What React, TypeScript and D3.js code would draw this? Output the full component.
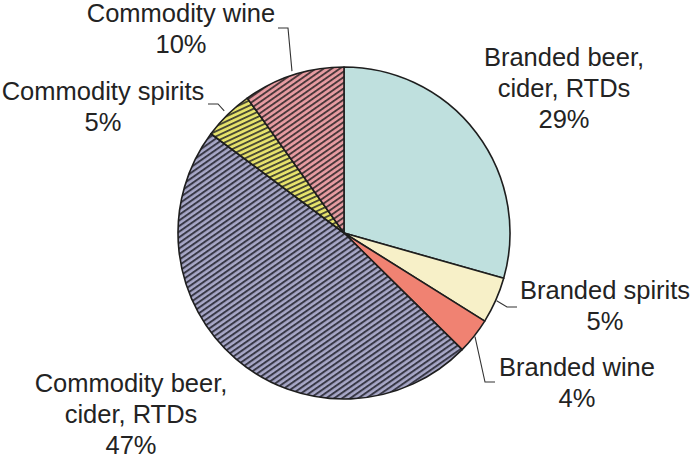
import React from "react";
import * as d3 from "d3";

const categories = [
  "Branded beer, cider, RTDs",
  "Branded spirits",
  "Branded wine",
  "Commodity beer, cider, RTDs",
  "Commodity spirits",
  "Commodity wine",
];
const values = [29.4, 4.5, 3.5, 47.8, 4.9, 9.9];
const pctLabels = ["29%", "5%", "4%", "47%", "5%", "10%"];
const labelLines = [
  ["Branded beer,", "cider, RTDs"],
  ["Branded spirits"],
  ["Branded wine"],
  ["Commodity beer,", "cider, RTDs"],
  ["Commodity spirits"],
  ["Commodity wine"],
];

const W = 690, H = 460;
const cx = 344, cy = 233, R = 166;

const fills = ["#bfe0de", "#f7f0c8", "#f08272", "url(#hatchGrey)", "url(#hatchYellow)", "url(#hatchPink)"];

// label layout: center x, first baseline y
const labelPos = [
  { x: 564, y: 66 },
  { x: 605, y: 299 },
  { x: 577, y: 376 },
  { x: 131, y: 392 },
  { x: 103, y: 100 },
  { x: 181, y: 22 },
];
const leaders: Record<number, { r: number; elbow: [number, number]; end: [number, number] }> = {
  1: { r: R + 1, elbow: [507, 307], end: [517, 307] },
  2: { r: R + 1, elbow: [485, 382], end: [495, 382] },
  4: { r: R + 5, elbow: [218, 104], end: [208, 104] },
  5: { r: R + 4, elbow: [288, 28], end: [278, 28] },
};

export default function App() {
  const pie = d3.pie<number>().sort(null).value((d) => d);
  const arcs = pie(values);
  const arc = d3.arc<d3.PieArcDatum<number>>().innerRadius(0).outerRadius(R);
  const lh = 31;
  return (
    <svg width={W} height={H} style={{ position: "absolute", left: 0, top: 0, background: "#fff" }}>
      <defs>
        <pattern id="hatchGrey" width="4.6" height="4.6" patternUnits="userSpaceOnUse" patternTransform="rotate(-35)">
          <rect width="4.6" height="4.6" fill="#a8a8c8" />
          <rect y="0" width="4.6" height="2" fill="#383846" />
        </pattern>
        <pattern id="hatchPink" width="4.6" height="4.6" patternUnits="userSpaceOnUse" patternTransform="rotate(-35)">
          <rect width="4.6" height="4.6" fill="#e89ca2" />
          <rect y="0" width="4.6" height="1.9" fill="#4a383a" />
        </pattern>
        <pattern id="hatchYellow" width="4.6" height="4.6" patternUnits="userSpaceOnUse" patternTransform="rotate(-25)">
          <rect width="4.6" height="4.6" fill="#e8e46c" />
          <rect y="0" width="4.6" height="1.9" fill="#4a4a34" />
        </pattern>
      </defs>
      <g transform={`translate(${cx},${cy})`}>
        {arcs.map((a, i) => (
          <path key={categories[i]} d={arc(a) || ""} fill={fills[i]} stroke="#1e1e1e" strokeWidth={1.6} strokeLinejoin="round" />
        ))}
      </g>
      {arcs.map((a, i) => {
        const L = leaders[i];
        if (!L) return null;
        const mid = (a.startAngle + a.endAngle) / 2;
        const sx = cx + L.r * Math.sin(mid);
        const sy = cy - L.r * Math.cos(mid);
        return (
          <polyline key={"l" + i} points={`${sx},${sy} ${L.elbow[0]},${L.elbow[1]} ${L.end[0]},${L.end[1]}`} fill="none" stroke="#333" strokeWidth={1.1} />
        );
      })}
      {categories.map((c, i) => {
        const p = labelPos[i];
        const lines = [...labelLines[i], pctLabels[i]];
        return (
          <text key={"t" + c} x={p.x} y={p.y} textAnchor="middle" fontFamily="'Liberation Sans', Arial, sans-serif" fontSize={25.5} fill="#232323">
            {lines.map((t, k) => (
              <tspan key={k} x={p.x} y={p.y + k * lh}>{t}</tspan>
            ))}
          </text>
        );
      })}
    </svg>
  );
}
